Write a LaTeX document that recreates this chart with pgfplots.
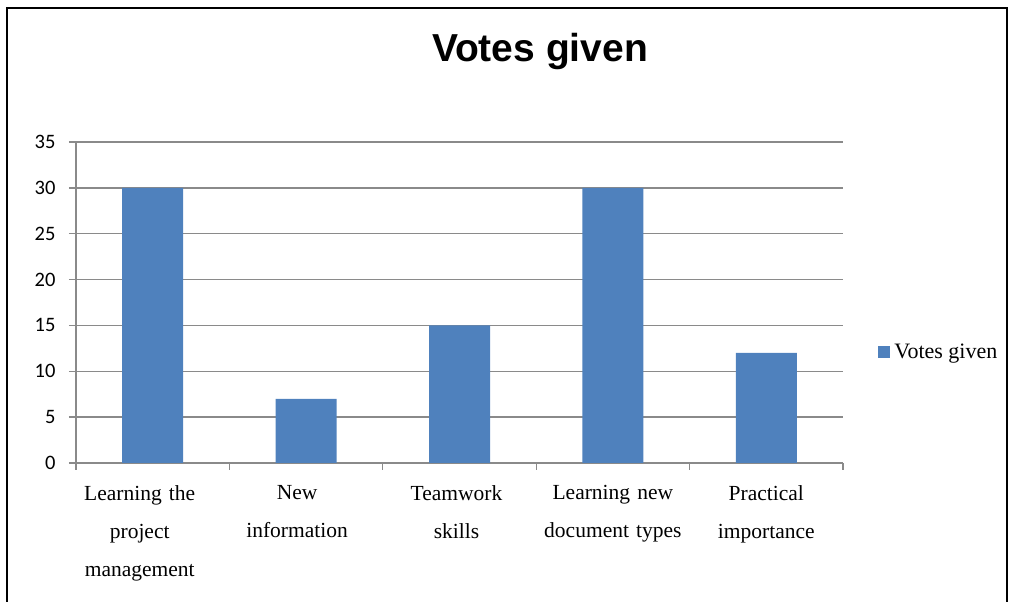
\documentclass[border=0pt]{standalone}
\usepackage{fontspec}
\setmainfont{Liberation Serif}
\newfontfamily\arial{Liberation Sans}
\newfontfamily\calibri{Carlito}
\usepackage{pgfplots}
\pgfplotsset{compat=1.18}
\definecolor{barblue}{HTML}{4F81BD}
\definecolor{gridgray}{HTML}{8A8A8A}
\newcommand{\sh}[1]{\hspace*{#1}}
\begin{document}
\begin{tikzpicture}[x=1pt,y=1pt]
\useasboundingbox (0,0) rectangle (1009,602);
\draw[line width=2.5pt] (7,-20) -- (7,594) -- (1007,594) -- (1007,-20);
\node[anchor=base, font=\arial\bfseries\fontsize{39}{44}\selectfont] at (540,540) {Votes given};
\begin{axis}[
  at={(76pt,139pt)}, anchor=south west,
  scale only axis, width=767pt, height=321pt,
  xmin=-0.5, xmax=4.5, ymin=0, ymax=35,
  axis x line*=bottom, axis y line*=left,
  axis line style={gridgray, line width=1.3pt},
  ytick={0,5,...,35},
  ymajorgrids, grid style={gridgray, line width=1.3pt},
  xtick={0,...,4},
  xticklabels={{\sh{-26pt}Learning the\\\sh{-26pt}project\\\sh{-26pt}management},{\sh{-18pt}New\\\sh{-18pt}information},{\sh{-6pt}Teamwork\\\sh{-6pt}skills},{Learning new\\document types},{Practical\\importance}},
  minor xtick={-0.5,0.5,...,4.5},
  major x tick style={draw=none},
  minor tick length=7pt, major tick length=7pt,
  tick align=outside,
  tick style={gridgray, line width=1.3pt},
  x tick label style={font=\fontsize{21.5}{38}\selectfont, align=center, text width=160pt, yshift=-12pt},
  y tick label style={font=\calibri\fontsize{20.5}{24}\selectfont, xshift=-10pt},
  /pgf/number format/assume math mode=true,
  legend style={at={(rel axis cs:1.046,0.346)}, anchor=west, draw=none, fill=none,
    font=\fontsize{22}{24}\selectfont, inner sep=0pt},
  legend image code/.code={\fill[#1] (0pt,-6pt) rectangle (12pt,6pt);},
]
\addplot[ybar, bar width=61pt, fill=barblue, draw=none] coordinates {(0,30) (1,7) (2,15) (3,30) (4,12)};
\addlegendentry{\hspace*{2pt}Votes given}
\end{axis}
\end{tikzpicture}
\end{document}
